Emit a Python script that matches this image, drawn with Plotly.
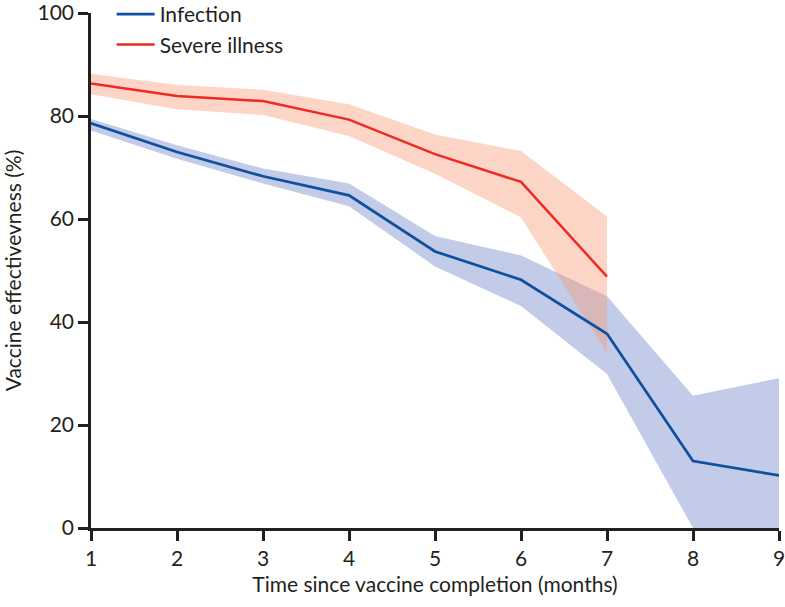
import plotly.graph_objects as go

months_inf = [1, 2, 3, 4, 5, 6, 7, 8, 9]
infection = [78.6, 73.0, 68.3, 64.6, 53.7, 48.2, 37.7, 13.0, 10.2]
infection_lo = [77.2, 71.7, 66.9, 62.5, 50.8, 43.1, 29.9, 0.0, 0.0]
infection_hi = [79.4, 74.3, 69.8, 66.9, 56.7, 52.9, 45.0, 25.7, 29.1]

months_sev = [1, 2, 3, 4, 5, 6, 7]
severe = [86.3, 83.9, 82.9, 79.3, 72.6, 67.2, 48.8]
severe_lo = [84.2, 81.3, 80.2, 76.1, 68.8, 60.3, 34.0]
severe_hi = [88.2, 86.0, 85.1, 82.3, 76.4, 73.2, 60.5]

x_ticks = [1, 2, 3, 4, 5, 6, 7, 8, 9]
y_ticks = [0, 20, 40, 60, 80, 100]

BLUE = "#0F4FA0"
RED = "#EE2A24"
BLUE_BAND = "rgba(110,132,198,0.42)"
RED_BAND = "rgba(247,155,120,0.42)"
FONT = "Lato"
INK = "#231F20"

fig = go.Figure()

# Infection band
fig.add_trace(go.Scatter(x=months_inf, y=infection_lo, mode="lines", line=dict(width=0),
                         showlegend=False, hoverinfo="skip"))
fig.add_trace(go.Scatter(x=months_inf, y=infection_hi, mode="lines", line=dict(width=0),
                         fill="tonexty", fillcolor=BLUE_BAND, showlegend=False, hoverinfo="skip"))
# Severe band
fig.add_trace(go.Scatter(x=months_sev, y=severe_lo, mode="lines", line=dict(width=0),
                         showlegend=False, hoverinfo="skip"))
fig.add_trace(go.Scatter(x=months_sev, y=severe_hi, mode="lines", line=dict(width=0),
                         fill="tonexty", fillcolor=RED_BAND, showlegend=False, hoverinfo="skip"))
# Lines
fig.add_trace(go.Scatter(x=months_inf, y=infection, mode="lines", name="Infection",
                         line=dict(color=BLUE, width=2.7)))
fig.add_trace(go.Scatter(x=months_sev, y=severe, mode="lines", name="Severe illness",
                         line=dict(color=RED, width=2.5)))

fig.update_layout(
    width=785, height=607,
    margin=dict(l=91, r=6, t=13, b=79, autoexpand=False),
    paper_bgcolor="white", plot_bgcolor="white",
    font=dict(family=FONT, size=21, color=INK),
    showlegend=True,
    legend=dict(x=0.03, y=1.037, xanchor="left", yanchor="top",
                traceorder="normal",
                bgcolor="rgba(0,0,0,0)", font=dict(size=21, family=FONT, color=INK),
                tracegroupgap=0, itemwidth=38),
)
fig.update_xaxes(range=[1, 9], tickvals=x_ticks, ticktext=[str(v) for v in x_ticks],
                 showline=True, linecolor=INK, linewidth=2.5,
                 ticks="outside", ticklen=10, tickwidth=2.5, tickcolor=INK,
                 showgrid=False, zeroline=False, automargin=False,
                 ticklabeloverflow="allow",
                 title=dict(text="Time since vaccine completion (months)", standoff=9,
                            font=dict(size=21)),
                 tickfont=dict(size=21))
fig.update_yaxes(range=[0, 100], tickvals=y_ticks, ticktext=[str(v) for v in y_ticks],
                 showline=True, linecolor=INK, linewidth=2.5,
                 ticks="outside", ticklen=10, tickwidth=2.5, tickcolor=INK,
                 showgrid=False, zeroline=False, automargin=False,
                 ticklabeloverflow="allow",
                 title=dict(text="Vaccine effectivevness (%)", standoff=20,
                            font=dict(size=21)),
                 tickfont=dict(size=21))

fig.write_html("out.html",
               config={"displayModeBar": False},
               post_script="document.body.style.margin='0';document.body.style.overflow='hidden';")
